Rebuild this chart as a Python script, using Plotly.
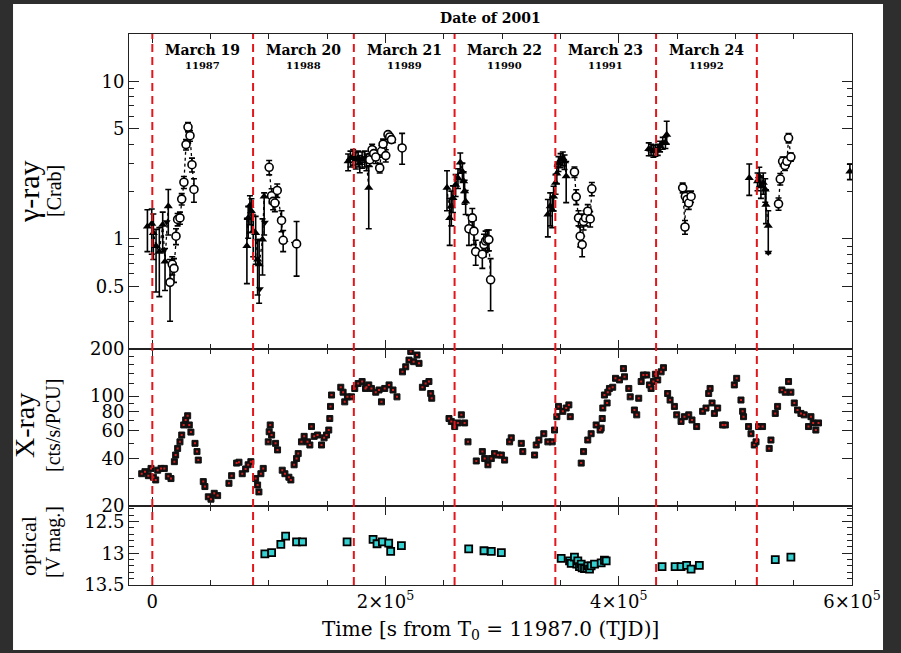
import plotly.graph_objects as go

# ---------------- data ----------------
# gamma-ray, filled triangles: time [s], flux [Crab], error plus, error minus
tri_t = [-4200, -500, 900, 3200, 6000, 8900, 10900, 13700,
         81100, 82200, 83700, 85000, 86500, 88600, 90300, 91600, 94500, 95900,
         167900, 169900, 172200, 174500, 176500, 177900, 179900, 182200, 183600, 185600,
         252700, 255000, 256400, 257800, 260100, 262100, 264100, 265900, 267000, 267800, 268700,
         339200, 341200, 342900, 344100, 345800, 346900, 348300, 350100, 352000, 353500, 354900,
         425700, 427700, 429700, 431400, 433400, 435400, 437700, 440000, 441100,
         511900, 519000, 520500, 521900, 523900, 525600, 526200, 528200, 598200]
tri_y = [1.20, 1.25, 1.09, 0.90, 0.83, 1.23, 0.72, 1.61,
         0.90, 1.36, 1.63, 1.50, 1.12, 1.09, 0.74, 0.69, 0.99, 1.86,
         3.11, 3.26, 3.34, 3.18, 3.26, 3.03, 3.21, 3.26, 3.11, 2.11,
         2.11, 1.36, 1.61, 1.82, 2.21, 2.44, 3.06, 2.68, 2.32, 2.01, 1.73,
         1.43, 1.61, 1.53, 1.86, 2.27, 2.60, 3.03, 3.18, 3.26, 3.11, 2.50,
         3.72, 3.69, 3.60, 3.65, 3.69, 3.87, 4.06, 4.10, 4.59,
         2.44, 2.32, 2.50, 2.16, 2.27, 2.06, 1.65, 1.21, 2.68]
tri_ep = [0.33, 0.30, 0.35, 0.25, 0.35, 0.25, 0.15, 0.45,
          0.45, 0.25, 0.25, 0.30, 0.30, 0.30, 0.25, 0.30, 0.35, 0.10,
          0.35, 0.35, 0.35, 0.35, 0.35, 0.35, 0.35, 0.35, 0.35, 0.80,
          0.60, 0.45, 0.40, 0.35, 0.35, 0.35, 0.45, 0.35, 0.35, 0.35, 0.30,
          0.35, 0.35, 0.30, 0.30, 0.30, 0.30, 0.30, 0.30, 0.30, 0.30, 0.60,
          0.35, 0.30, 0.30, 0.30, 0.30, 0.30, 0.35, 0.35, 1.00,
          0.55, 0.30, 0.35, 0.35, 0.35, 0.35, 0.40, 0.30, 0.30]
tri_em = [0.37, 0.45, 0.35, 0.44, 0.40, 0.40, 0.25, 0.55,
          0.38, 0.35, 0.40, 0.40, 0.35, 0.40, 0.30, 0.30, 0.40, 0.80,
          0.40, 0.40, 0.40, 0.40, 0.40, 0.40, 0.40, 0.40, 0.40, 0.95,
          0.60, 0.45, 0.40, 0.35, 0.35, 0.35, 0.45, 0.35, 0.35, 0.35, 0.30,
          0.40, 0.40, 0.35, 0.35, 0.35, 0.35, 0.35, 0.35, 0.35, 0.35, 0.80,
          0.35, 0.30, 0.30, 0.30, 0.30, 0.30, 0.35, 0.35, 0.60,
          0.55, 0.30, 0.35, 0.35, 0.35, 0.35, 0.40, 0.40, 0.30]

# gamma-ray upper-limit arrowheads: time [s], flux [Crab]
ul_t = [10000, 12300, 92200, 96500, 528200]
ul_y = [0.85, 1.28, 0.48, 1.27, 0.82]

# gamma-ray, open circles
cir_t = [15200, 17100, 18600, 20300, 21700, 23700, 25200, 27100, 28900, 30600, 32300, 34000, 35700,
         100200, 102300, 103600, 105100, 107100, 110800, 112200, 123700,
         186500, 188500, 189900, 191600, 195000, 196500, 197900, 200200, 202100, 203600, 205100, 214200,
         271500, 274400, 275800, 277300, 283000, 284400, 285800, 287300, 288600, 290100,
         362000, 363500, 365500, 366900, 368600, 369800, 371500, 373400, 375500, 376900,
         454800, 456800, 457100, 458600, 460000, 462000,
         537000, 538500, 540500, 542500, 544200, 545600, 547600]
cir_y = [0.53, 0.69, 0.65, 1.04, 1.33, 1.36, 1.79, 2.29, 3.97, 5.13, 4.52, 2.96, 2.06,
         2.85, 1.88, 1.73, 1.69, 2.03, 1.31, 0.98, 0.93,
         3.18, 3.69, 3.48, 3.31, 2.82, 3.60, 4.00, 3.38, 4.59, 4.44, 4.27, 3.78,
         1.16, 1.36, 1.12, 0.83, 0.80, 0.92, 0.97, 0.99, 0.99, 0.55,
         2.66, 1.85, 1.36, 1.04, 0.92, 1.29, 1.36, 1.50, 1.34, 2.08,
         2.11, 1.19, 1.86, 1.78, 1.69, 1.86,
         1.67, 2.40, 3.11, 2.92, 3.11, 4.37, 3.31]
cir_ep = [0.21, 0.08, 0.10, 0.12, 0.12, 0.12, 0.15, 0.20, 0.30, 0.35, 0.35, 0.30, 0.35,
          0.30, 0.20, 0.20, 0.20, 0.20, 0.20, 0.15, 0.36,
          0.30, 0.30, 0.30, 0.30, 0.20, 0.30, 0.30, 0.30, 0.20, 0.20, 0.20, 0.90,
          0.25, 0.20, 0.20, 0.15, 0.15, 0.15, 0.15, 0.15, 0.15, 0.20,
          0.20, 0.20, 0.15, 0.15, 0.12, 0.15, 0.15, 0.15, 0.15, 0.20,
          0.15, 0.12, 0.15, 0.15, 0.15, 0.15,
          0.15, 0.20, 0.20, 0.20, 0.20, 0.30, 0.20]
cir_em = [0.23, 0.10, 0.12, 0.12, 0.12, 0.12, 0.15, 0.20, 0.30, 0.35, 0.35, 0.30, 0.35,
          0.30, 0.20, 0.20, 0.20, 0.20, 0.20, 0.15, 0.35,
          0.30, 0.30, 0.30, 0.30, 0.20, 0.30, 0.30, 0.30, 0.20, 0.20, 0.20, 0.80,
          0.25, 0.25, 0.20, 0.15, 0.15, 0.15, 0.15, 0.15, 0.15, 0.20,
          0.20, 0.20, 0.15, 0.15, 0.15, 0.15, 0.15, 0.15, 0.15, 0.20,
          0.15, 0.12, 0.15, 0.15, 0.15, 0.15,
          0.15, 0.20, 0.20, 0.20, 0.20, 0.30, 0.20]

# X-ray: time [s], rate [cts/s/PCU]
xr_t = [-9100, -6300, -3400, -1100, 900, 2900, 4600, 7500, 10300, 13700, 16000, 18900, 20000,
        21700, 23700, 25200, 26900, 28600, 30300, 31700, 33100, 36600, 38300, 39400, 43700,
        45100, 48000, 50300, 53100, 56000, 65700, 68000, 72300, 74300, 77100, 80000, 82200,
        84500, 88600, 90300, 91400, 93100, 95100, 99400, 100200, 101100, 102300, 105700, 107400,
        111400, 113700, 117100, 118800, 121600, 123700, 125100, 127900, 130200, 133100, 135100,
        136500, 138800, 141700, 145100, 147300, 149400, 151300, 152200, 152800, 153700, 161600,
        163600, 165000, 167300, 170800, 173600, 176500, 179900, 182800, 183600, 185600, 187900,
        191600, 194400, 196500, 199300, 203000, 206400, 209800, 214500, 217300, 220100, 221600,
        224100, 227000, 228700, 231600, 234400, 237200, 238700, 239600, 254400, 256400, 259300,
        262100, 265000, 267800, 270700, 277800, 283000, 285000, 287800, 290700, 293500, 296400,
        299300, 302100, 306400, 307800, 316400, 317700, 327800, 329200, 331500, 335700, 339200,
        342900, 344900, 346900, 348300, 352000, 354900, 357200, 358400, 367800, 369800, 373400,
        376300, 380600, 384000, 384900, 385800, 386300, 387700, 390000, 390600, 392000, 394800,
        397200, 400600, 404000, 404900, 408600, 409800, 413400, 415400, 417100, 419200, 421100,
        424000, 426300, 427700, 429700, 431400, 433400, 436300, 438300, 441900, 444000, 447700,
        449700, 453400, 456300, 460000, 462800, 466800, 471900, 474800, 477100, 478300, 480000,
        482000, 484800, 489100, 491400, 499100, 501100, 504800, 506200, 507000, 511300, 513400,
        516200, 517700, 519900, 523300, 529000, 530500, 534200, 536200, 539900, 542800, 545600,
        547600, 550500, 553300, 556200, 559000, 562700, 564800, 566700, 569000, 571300]
xr_c = [32.0, 33.0, 31.1, 34.6, 30.4, 29.2, 33.7, 34.6, 34.6, 30.8, 29.8, 38.2, 42.1,
        46.4, 51.1, 56.5, 65.5, 70.5, 75.0, 65.5, 59.0, 50.0, 44.3, 39.1, 28.5,
        26.5, 22.8, 22.0, 24.0, 23.2, 27.8, 31.1, 37.4, 37.9, 32.0, 34.3, 36.5,
        38.2, 29.8, 27.1, 24.5, 32.0, 34.6, 51.1, 59.3, 65.5, 56.5, 50.0, 45.4,
        33.7, 32.0, 30.4, 29.2, 36.5, 40.0, 43.0, 51.1, 55.4, 51.1, 48.8,
        64.0, 55.4, 56.5, 48.8, 54.2, 56.5, 60.8, 72.0, 86.0, 101.7, 114,
        106, 92, 99, 99, 112, 120.5, 124, 112, 114, 118, 112,
        106, 109.5, 92, 112, 118, 109.5, 99, 143, 154, 170, 193,
        166, 183, 162, 114, 120.5, 124, 104, 97, 72, 69, 64,
        67.5, 76, 67.5, 51.1, 38.6, 44.3, 40.0, 36.5, 40.0, 43.0, 42.1,
        42.1, 39.1, 51.1, 54.2, 50.0, 44.3, 42.1, 48.8, 52.5, 57.6, 51.1,
        51.1, 60.8, 74, 86, 80, 84, 88, 74, 37.4, 44.3, 52.5,
        57.6, 65.5, 60.8, 62.5, 72, 84, 101.7, 90.5, 106, 112, 114,
        130, 127, 150, 133, 112, 99, 81.6, 76, 97, 124, 136.5,
        136.5, 118, 112, 124, 138, 127, 143, 152, 104, 94.5, 86,
        76, 69, 74, 76, 70.5, 64, 80, 84, 104, 112, 90.5,
        77.6, 84, 65.5, 65.5, 118, 130, 94.5, 80, 74, 64, 57.6,
        48.8, 51.1, 64, 64, 46.4, 52.5, 77.6, 86, 109.5, 106, 124,
        106, 90.5, 81.6, 77.6, 76, 64, 74, 67.5, 60.8, 67.5]

# optical: time [s], V magnitude
op_t = [96500, 102300, 110200, 114300, 123700, 128800, 167000, 189300, 192700, 197300, 202700,
        204400, 213600, 271300, 284400, 290700, 299300, 350600, 357800, 359200, 362000, 364000,
        364900, 366300, 367800, 368600, 370600, 372600, 373400, 374900, 376300, 379200, 384900,
        387700, 389200, 437100, 448300, 453400, 458200, 462000, 469100, 534200, 547600]
op_v = [13.01, 12.99, 12.86, 12.73, 12.82, 12.82, 12.82, 12.78, 12.85, 12.82, 12.84,
        12.97, 12.88, 12.93, 12.96, 12.97, 12.99, 13.08, 13.12, 13.16, 13.06, 13.17,
        13.12, 13.21, 13.17, 13.23, 13.24, 13.24, 13.20, 13.25, 13.20, 13.17, 13.15,
        13.11, 13.12, 13.21, 13.21, 13.21, 13.19, 13.25, 13.19, 13.10, 13.06]

day_starts = [0, 86400, 172800, 259200, 345600, 432000, 518400]
day_names = ["March 19", "March 20", "March 21", "March 22", "March 23", "March 24"]
day_tjd = ["11987", "11988", "11989", "11990", "11991", "11992"]

x_tickvals = [0, 200000, 400000, 600000]
x_ticktext = ["0", "2×10<sup>5</sup>", "4×10<sup>5</sup>", "6×10<sup>5</sup>"]
g_tickvals = [0.5, 1, 5, 10]
g_ticktext = ["0.5", "1", "5", "10"]
x_rays_tickvals = [20, 40, 60, 80, 100, 200]
o_tickvals = [12.5, 13, 13.5]

# ---------------- helpers ----------------
def gapped(ts, ys, gap=20000):
    gx, gy = [], []
    for i, (t, y) in enumerate(zip(ts, ys)):
        if i > 0 and t - ts[i - 1] > gap:
            gx.append(None)
            gy.append(None)
        gx.append(t)
        gy.append(y)
    return gx, gy

fig = go.Figure()

# dotted connecting lines (gamma)
for ts, ys in [(tri_t, tri_y), (cir_t, cir_y)]:
    lx, ly = gapped(ts, ys)
    fig.add_trace(go.Scatter(x=lx, y=ly, mode="lines", xaxis="x3", yaxis="y",
                             line=dict(color="black", width=1.3, dash="dot"),
                             showlegend=False, hoverinfo="skip", connectgaps=False))

fig.add_trace(go.Scatter(x=tri_t, y=tri_y, mode="markers", xaxis="x3", yaxis="y",
                         marker=dict(symbol="triangle-up", size=8, color="black"),
                         error_y=dict(type="data", array=tri_ep, arrayminus=tri_em,
                                      color="black", thickness=1.6, width=3),
                         showlegend=False))
fig.add_trace(go.Scatter(x=ul_t, y=ul_y, mode="markers", xaxis="x3", yaxis="y",
                         marker=dict(symbol="triangle-down", size=7, color="black"),
                         showlegend=False))
fig.add_trace(go.Scatter(x=cir_t, y=cir_y, mode="markers", xaxis="x3", yaxis="y",
                         marker=dict(symbol="circle", size=8, color="white",
                                     line=dict(color="black", width=1.6)),
                         error_y=dict(type="data", array=cir_ep, arrayminus=cir_em,
                                      color="black", thickness=1.6, width=3),
                         showlegend=False))

# X-ray
fig.add_trace(go.Scatter(x=xr_t, y=xr_c, mode="markers", xaxis="x2", yaxis="y2",
                         marker=dict(symbol="square", size=6, color="#111111",
                                     line=dict(color="#111111", width=1)),
                         showlegend=False))
fig.add_trace(go.Scatter(x=xr_t, y=xr_c, mode="markers", xaxis="x2", yaxis="y2",
                         marker=dict(symbol="square", size=2, color="#d42020"),
                         showlegend=False))

# optical
fig.add_trace(go.Scatter(x=op_t, y=op_v, mode="markers", xaxis="x", yaxis="y3",
                         marker=dict(symbol="square", size=7, color="#35d0d0",
                                     line=dict(color="black", width=1.8)),
                         showlegend=False))

tickfont = dict(family="DejaVu Serif", size=18, color="black")
axcommon = dict(showline=True, linecolor="#222", linewidth=1.1, mirror="ticks",
                ticks="inside", tickcolor="#222", tickwidth=1.4, showgrid=False,
                zeroline=False, tickfont=tickfont)

minor_x = [v for v in range(-0, 600001, 50000)]

xcommon = dict(axcommon, range=[-20000, 600000], tickmode="array", tickvals=x_tickvals,
               ticklen=9, minor=dict(tickmode="array", tickvals=minor_x, ticks="inside",
                                     ticklen=5, tickcolor="#222", tickwidth=1.2))

g_minor = [0.2, 0.3, 0.4, 0.6, 0.7, 0.8, 0.9, 2, 3, 4, 6, 7, 8, 9, 20]
x_minor = [30, 50, 70, 90, 120, 140, 160, 180]
o_minor = [12.3, 12.4, 12.6, 12.7, 12.8, 12.9, 13.1, 13.2, 13.3, 13.4]

fig.update_layout(
    width=901, height=653,
    margin=dict(l=129, r=49, t=34, b=68),
    paper_bgcolor="#2e2e2e",
    plot_bgcolor="white",
    showlegend=False,
    xaxis=dict(xcommon, domain=[0, 1], anchor="y3", ticktext=x_ticktext, showticklabels=True),
    xaxis2=dict(xcommon, domain=[0, 1], anchor="y2", matches="x", showticklabels=False),
    xaxis3=dict(xcommon, domain=[0, 1], anchor="y", matches="x", showticklabels=False),
    yaxis=dict(axcommon, domain=[0.4283, 1], type="log", range=[-0.699, 1.301], anchor="x3",
               tickmode="array", tickvals=g_tickvals, ticktext=g_ticktext, ticklen=10,
               minor=dict(tickmode="array", tickvals=g_minor, ticks="inside", ticklen=5,
                          tickcolor="#222", tickwidth=1.2)),
    yaxis2=dict(axcommon, domain=[0.1439, 0.4283], type="log", range=[1.301, 2.301], anchor="x2",
                tickmode="array", tickvals=x_rays_tickvals,
                ticktext=[str(v) for v in x_rays_tickvals], ticklen=10,
                minor=dict(tickmode="array", tickvals=x_minor, ticks="inside", ticklen=5,
                           tickcolor="#222", tickwidth=1.2)),
    yaxis3=dict(axcommon, domain=[0, 0.1439], range=[13.5, 12.25], anchor="x",
                tickmode="array", tickvals=o_tickvals, ticktext=["12.5", "13", "13.5"],
                ticklen=10,
                minor=dict(tickmode="array", tickvals=o_minor, ticks="inside", ticklen=5,
                           tickcolor="#222", tickwidth=1.2)),
)

shapes = [dict(type="rect", xref="paper", yref="paper", x0=-0.1604, x1=1.0429,
               y0=-0.118, y1=1.0544, fillcolor="white", line=dict(width=0), layer="below")]
for d in day_starts:
    shapes.append(dict(type="line", xref="x", yref="paper", x0=d, x1=d, y0=0, y1=1,
                       line=dict(color="#e3161c", width=2, dash="8px,5px"), layer="above"))
fig.update_layout(shapes=shapes)

def px2paper(px, py):
    return (px - 129) / 723, (585 - py) / 551

ann = []
for i, name in enumerate(day_names):
    mid = day_starts[i] + 43200
    ann.append(dict(x=mid, y=px2paper(0, 50)[1], xref="x", yref="paper",
                    text="<b>" + name + "</b>", showarrow=False,
                    xanchor="center", yanchor="middle",
                    font=dict(family="DejaVu Serif", size=14, color="black")))
    ann.append(dict(x=mid, y=px2paper(0, 66)[1], xref="x", yref="paper",
                    text="<b>" + day_tjd[i] + "</b>", showarrow=False,
                    xanchor="center", yanchor="middle",
                    font=dict(family="DejaVu Serif", size=10, color="black")))

tx, ty = px2paper(490, 18)
ann.append(dict(x=tx, y=ty, xref="paper", yref="paper", text="<b>Date of 2001</b>",
                showarrow=False, xanchor="center", yanchor="middle",
                font=dict(family="DejaVu Serif", size=14, color="black")))

tx, ty = px2paper(490, 630)
ann.append(dict(x=tx, y=ty, xref="paper", yref="paper",
                text="Time [s from T<sub>0</sub> = 11987.0 (TJD)]", showarrow=False,
                xanchor="center", yanchor="middle",
                font=dict(family="DejaVu Serif", size=20, color="black")))

def ytitle(px, py, text, size):
    ax, ay = px2paper(px, py)
    return dict(x=ax, y=ay, xref="paper", yref="paper", xanchor="center", yanchor="middle",
                text=text, showarrow=False, textangle=-90,
                font=dict(family="Liberation Serif", size=size, color="black"))

ann += [ytitle(28, 192, "γ-ray", 30), ytitle(54, 191, "[Crab]", 20),
        ytitle(25, 426, "X-ray", 28), ytitle(53, 426, "[cts/s/PCU]", 20),
        ytitle(28, 546, "optical", 22), ytitle(53, 542, "[V mag.]", 20)]
fig.update_layout(annotations=ann)

fig.write_html("out.html")
